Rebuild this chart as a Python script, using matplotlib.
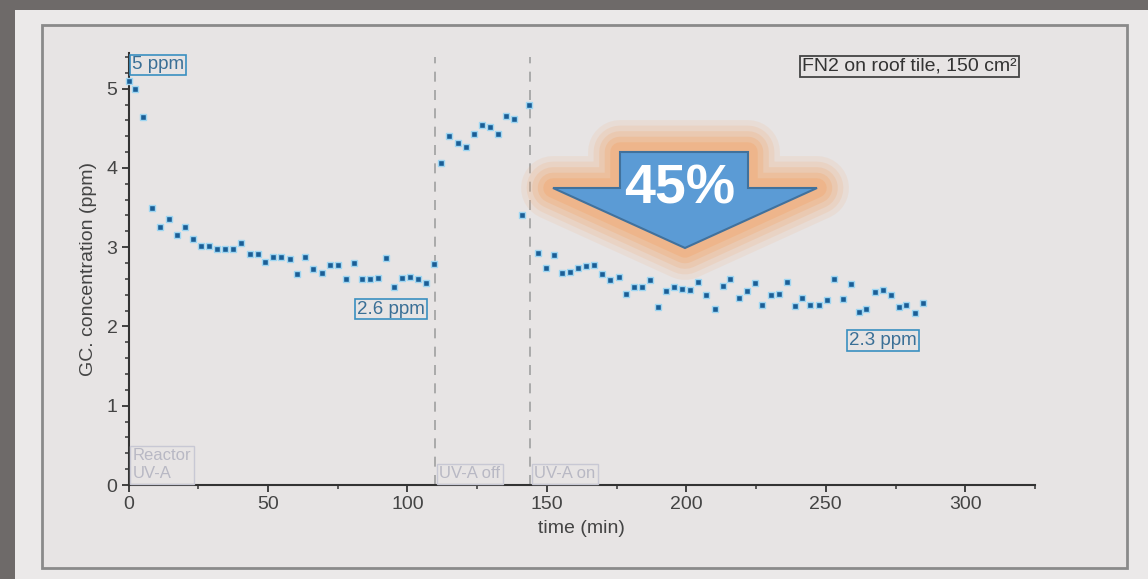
import numpy as np
import matplotlib.pyplot as plt
from matplotlib.patches import Polygon, Rectangle

plt.rcParams['font.family'] = ['Liberation Sans', 'DejaVu Sans']

# reactor UV-A on, first period
time_on1 = [0, 2.2, 5.1, 8.3, 11.3, 14.4, 17.4, 20.3, 23.1, 25.9, 28.7, 31.7, 34.5,
            37.5, 40.5, 43.4, 46.3, 49.0, 51.9, 54.8, 57.8, 60.5, 63.4, 66.3, 69.2,
            72.2, 75.0, 77.9, 80.8, 83.8, 86.5, 89.3, 92.3, 95.1, 98.1, 101.0, 103.8,
            106.6, 109.4]
conc_on1 = [5.10, 5.00, 4.64, 3.50, 3.25, 3.35, 3.16, 3.26, 3.10, 3.01, 3.02, 2.98, 2.98,
            2.98, 3.05, 2.92, 2.92, 2.81, 2.88, 2.88, 2.85, 2.66, 2.88, 2.72, 2.68,
            2.77, 2.77, 2.60, 2.80, 2.60, 2.60, 2.61, 2.86, 2.50, 2.61, 2.62, 2.60,
            2.55, 2.79]
# UV-A off
time_off = [112.0, 115.0, 118.0, 121.0, 123.9, 126.7, 129.6, 132.5, 135.4, 138.2, 141.0, 143.6]
conc_off = [4.06, 4.40, 4.31, 4.27, 4.43, 4.54, 4.52, 4.43, 4.66, 4.62, 3.40, 4.79]
# UV-A on again
time_on2 = [146.8, 149.6, 152.6, 155.5, 158.4, 161.3, 164.1, 166.9, 169.9, 172.8, 175.7,
            178.5, 181.4, 184.2, 187.1, 189.9, 192.8, 195.7, 198.6, 201.4, 204.2, 207.1,
            210.1, 213.0, 215.8, 218.7, 221.6, 224.5, 227.3, 230.2, 233.1, 236.0, 238.8,
            241.6, 244.5, 247.4, 250.3, 253.1, 256.0, 258.9, 261.8, 264.5, 267.5, 270.4,
            273.3, 276.2, 278.9, 281.8, 284.7]
conc_on2 = [2.93, 2.74, 2.90, 2.67, 2.69, 2.74, 2.76, 2.78, 2.66, 2.58, 2.63,
            2.41, 2.50, 2.50, 2.59, 2.24, 2.45, 2.50, 2.47, 2.46, 2.56, 2.40,
            2.22, 2.51, 2.60, 2.36, 2.45, 2.55, 2.27, 2.40, 2.41, 2.56, 2.26,
            2.36, 2.27, 2.27, 2.34, 2.60, 2.35, 2.54, 2.18, 2.22, 2.43, 2.46,
            2.40, 2.25, 2.27, 2.17, 2.30]

switch_times = [110, 144]

W, H = 1148, 579
fig = plt.figure(figsize=(W / 100, H / 100), dpi=100)
fig.patch.set_facecolor('#ebe9e9')


def fx(px):
    return px / W


def fy(py):
    return 1 - py / H


# photo frame: dark strips and inner border
fig.patches.append(Rectangle((0, fy(10)), 1, fy(0) - fy(10), transform=fig.transFigure,
                             facecolor='#6e6a69', edgecolor='none', zorder=-2))
fig.patches.append(Rectangle((0, 0), fx(15), 1, transform=fig.transFigure,
                             facecolor='#6e6a69', edgecolor='none', zorder=-2))
fig.patches.append(Rectangle((fx(42), fy(568)), fx(1127) - fx(42), fy(25) - fy(568),
                             transform=fig.transFigure, facecolor='#e7e4e4',
                             edgecolor='#8a8a8a', lw=2, zorder=-1))

ax = fig.add_axes([fx(128.5), fy(485), fx(1035) - fx(128.5), fy(53) - fy(485)])
ax.set_facecolor('none')
ax.set_zorder(1)

for t, c in [(time_on1, conc_on1), (time_off, conc_off), (time_on2, conc_on2)]:
    ax.plot(t, c, 's', ms=4.8, mfc='#1a5e96', mec='#9fd6f2', mew=1.0,
            clip_on=False, zorder=4)

for t in switch_times:
    ax.axvline(t, ymax=0.99, color='#a0a0a0', lw=1.2, ls=(0, (6, 5)), zorder=2)

ax.set_xlim(0, 325)
ax.set_ylim(0, 5.45)
ax.set_xticks([0, 50, 100, 150, 200, 250, 300])
ax.set_xticks(np.arange(25, 326, 50), minor=True)
ax.set_yticks([0, 1, 2, 3, 4, 5])
ax.set_yticks(np.arange(0, 5.45, 0.2), minor=True)
for s in ['top', 'right']:
    ax.spines[s].set_visible(False)
for s in ['left', 'bottom']:
    ax.spines[s].set_color('#333333')
    ax.spines[s].set_linewidth(1.5)
ax.tick_params(which='major', direction='out', length=5, width=1.3, color='#333333',
               labelsize=14, labelcolor='#444444', pad=3)
ax.tick_params(which='minor', direction='out', length=3, width=1.1, color='#333333')
ax.set_xlabel('time (min)', fontsize=14, color='#444444', labelpad=5)
ax.set_ylabel('GC. concentration (ppm)', fontsize=14, color='#444444', labelpad=7)

# value labels
lab_kw = dict(fontsize=13.5, color='#3a6f96', va='center',
              bbox=dict(boxstyle='square,pad=0.1', fc='none', ec='#3a8fc0', lw=1.2))
ax.text(1.2, 5.30, '5 ppm', ha='left', **lab_kw)
ax.text(94, 2.22, '2.6 ppm', ha='center', **lab_kw)
ax.text(270.5, 1.82, '2.3 ppm', ha='center', **lab_kw)
ax.text(280, 5.28, 'FN2 on roof tile, 150 cm²', ha='center', va='center', fontsize=14,
        color='#333333',
        bbox=dict(boxstyle='square,pad=0.1', fc='none', ec='#444444', lw=1.3))

# faint reactor state boxes
st_kw = dict(fontsize=12, color='#b8b8c4', ha='left', va='bottom',
             bbox=dict(boxstyle='square,pad=0.15', fc='none', ec='#c8c8d4', lw=1.0))
ax.text(1.5, 0.05, 'Reactor\nUV-A', linespacing=1.25, **st_kw)
ax.text(111.5, 0.05, 'UV-A off', **st_kw)
ax.text(145.5, 0.05, 'UV-A on', **st_kw)

# 45% arrow with orange glow
arrow_px = [(620, 152), (748, 152), (748, 188), (817, 188), (685, 248),
            (553, 188), (620, 188)]
arrow = [(fx(x), fy(y)) for x, y in arrow_px]
for lw, a in [(46, 0.12), (38, 0.16), (30, 0.22), (22, 0.3), (14, 0.4)]:
    fig.patches.append(Polygon(arrow, closed=True, transform=fig.transFigure,
                               facecolor='#f2a870', edgecolor='#f2a870', lw=lw,
                               alpha=a, joinstyle='round', zorder=5))
fig.patches.append(Polygon(arrow, closed=True, transform=fig.transFigure,
                           facecolor='#5b9bd5', edgecolor='#41719c', lw=1.5, zorder=6))
fig.text(fx(680), fy(190), '45%', color='white', fontsize=40, fontweight='bold',
         ha='center', va='center', zorder=7)

fig.savefig('out.png', dpi=100, facecolor=fig.get_facecolor())
